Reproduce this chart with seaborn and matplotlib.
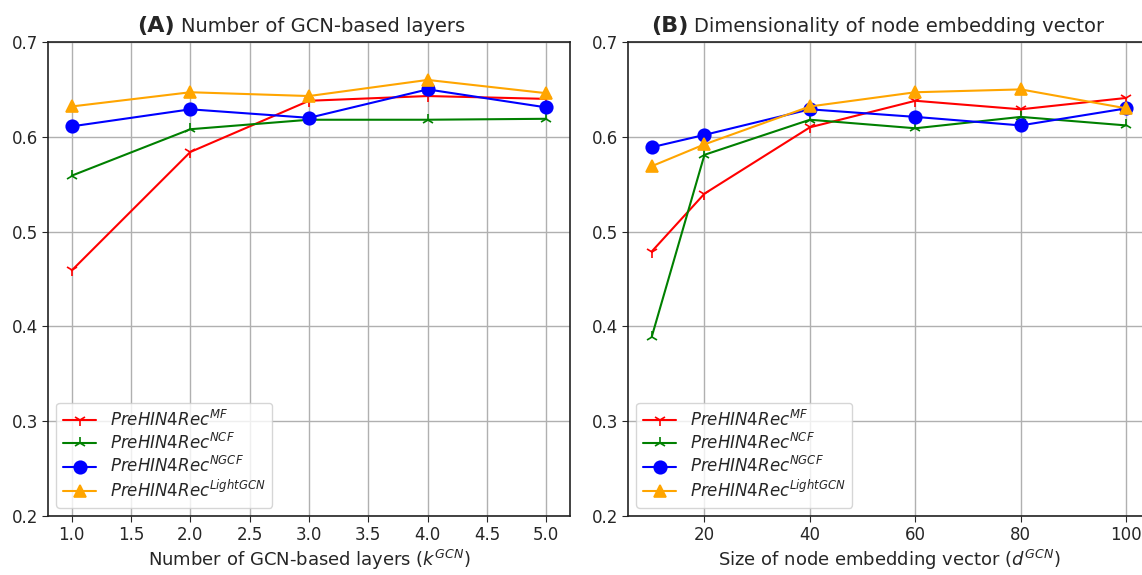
import matplotlib
matplotlib.use("Agg")
import matplotlib.pyplot as plt
import seaborn as sns

# Data
layers = [1.0, 2.0, 3.0, 4.0, 5.0]
dims = [10, 20, 40, 60, 80, 100]

layers_mf = [0.459, 0.584, 0.638, 0.643, 0.640]
layers_ncf = [0.559, 0.608, 0.618, 0.618, 0.619]
layers_ngcf = [0.611, 0.629, 0.620, 0.650, 0.631]
layers_lightgcn = [0.632, 0.647, 0.643, 0.660, 0.646]

dims_mf = [0.479, 0.540, 0.610, 0.638, 0.629, 0.641]
dims_ncf = [0.389, 0.581, 0.618, 0.609, 0.621, 0.612]
dims_ngcf = [0.589, 0.602, 0.629, 0.621, 0.612, 0.630]
dims_lightgcn = [0.569, 0.592, 0.632, 0.647, 0.650, 0.630]

labels = [r'$\mathit{PreHIN4Rec}^{\mathit{MF}}$',
          r'$\mathit{PreHIN4Rec}^{\mathit{NCF}}$',
          r'$\mathit{PreHIN4Rec}^{\mathit{NGCF}}$',
          r'$\mathit{PreHIN4Rec}^{\mathit{LightGCN}}$']
colors = ['red', 'green', 'blue', 'orange']
markers = ['1', '2', 'o', '^']
msizes = [9, 9, 9, 9]

sns.set_style("ticks")
plt.rcParams['font.family'] = ['DejaVu Sans']
plt.rcParams['mathtext.fontset'] = 'dejavusans'

fig = plt.figure(figsize=(11.42, 5.75), dpi=100)
ax1 = fig.add_axes([48/1142, 59/575, 522/1142, 474/575])
ax2 = fig.add_axes([628/1142, 59/575, 522/1142, 474/575])

panels = [
    (ax1, layers, [layers_mf, layers_ncf, layers_ngcf, layers_lightgcn],
     '(A)', 'Number of GCN-based layers', r'Number of GCN-based layers ($k^{GCN}$)', 0.243),
    (ax2, dims, [dims_mf, dims_ncf, dims_ngcf, dims_lightgcn],
     '(B)', 'Dimensionality of node embedding vector', r'Size of node embedding vector ($d^{GCN}$)', 0.115),
]

for ax, xs, series, tag, title, xlabel, tx in panels:
    for ys, lab, c, m, ms in zip(series, labels, colors, markers, msizes):
        sns.lineplot(x=xs, y=ys, ax=ax, color=c, marker=m, markersize=ms,
                     markeredgecolor=c, markerfacecolor=c, markeredgewidth=1.2,
                     linewidth=1.5, label=lab)
    ax.set_ylim(0.2, 0.7)
    ax.set_yticks([0.2, 0.3, 0.4, 0.5, 0.6, 0.7])
    ax.grid(True, color='#b0b0b0', linewidth=1.0)
    ax.set_axisbelow(True)
    ax.tick_params(labelsize=12, direction='out', length=4, pad=3)
    ax.set_xlabel(xlabel, fontsize=13, labelpad=3)
    for s in ax.spines.values():
        s.set_color('#222222')
        s.set_linewidth(1.2)
    ax.text(tx, 1.021, tag, transform=ax.transAxes, ha='right', va='baseline',
            fontsize=16, fontweight='bold')
    ax.text(tx + 0.011, 1.021, title, transform=ax.transAxes, ha='left', va='baseline',
            fontsize=14)
    ax.legend(loc='lower left', fontsize=12, frameon=True, framealpha=0.8,
              labelspacing=0.2, borderpad=0.4)

ax1.set_xticks([1.0, 1.5, 2.0, 2.5, 3.0, 3.5, 4.0, 4.5, 5.0])
ax1.set_xticklabels(['1.0', '1.5', '2.0', '2.5', '3.0', '3.5', '4.0', '4.5', '5.0'])
ax1.set_xlim(0.8, 5.2)
ax2.set_xticks([20, 40, 60, 80, 100])
ax2.set_xlim(5.5, 104.5)

fig.savefig('out.png', dpi=100)
